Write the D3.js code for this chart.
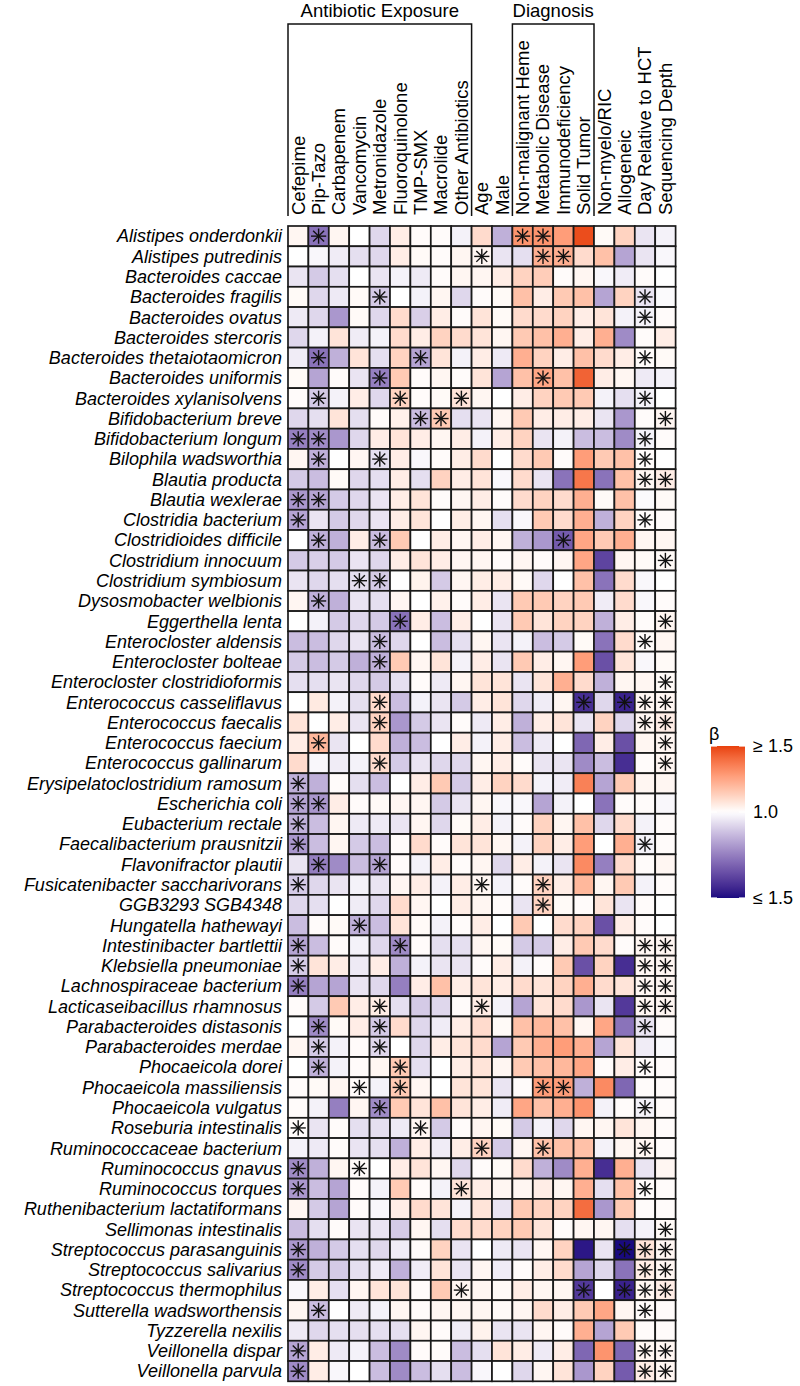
<!DOCTYPE html>
<html><head><meta charset="utf-8">
<script src="https://cdn.jsdelivr.net/npm/d3@7"></script>
<style>
body{margin:0;background:#fff}
svg{display:block}
text{font-family:"Liberation Sans",Arial,sans-serif;fill:#000}
</style>
</head><body>
<svg id="chart" width="800" height="1386"></svg>
<script>
const species = ["Alistipes onderdonkii","Alistipes putredinis","Bacteroides caccae","Bacteroides fragilis","Bacteroides ovatus","Bacteroides stercoris","Bacteroides thetaiotaomicron","Bacteroides uniformis","Bacteroides xylanisolvens","Bifidobacterium breve","Bifidobacterium longum","Bilophila wadsworthia","Blautia producta","Blautia wexlerae","Clostridia bacterium","Clostridioides difficile","Clostridium innocuum","Clostridium symbiosum","Dysosmobacter welbionis","Eggerthella lenta","Enterocloster aldensis","Enterocloster bolteae","Enterocloster clostridioformis","Enterococcus casseliflavus","Enterococcus faecalis","Enterococcus faecium","Enterococcus gallinarum","Erysipelatoclostridium ramosum","Escherichia coli","Eubacterium rectale","Faecalibacterium prausnitzii","Flavonifractor plautii","Fusicatenibacter saccharivorans","GGB3293 SGB4348","Hungatella hathewayi","Intestinibacter bartlettii","Klebsiella pneumoniae","Lachnospiraceae bacterium","Lacticaseibacillus rhamnosus","Parabacteroides distasonis","Parabacteroides merdae","Phocaeicola dorei","Phocaeicola massiliensis","Phocaeicola vulgatus","Roseburia intestinalis","Ruminococcaceae bacterium","Ruminococcus gnavus","Ruminococcus torques","Ruthenibacterium lactatiformans","Sellimonas intestinalis","Streptococcus parasanguinis","Streptococcus salivarius","Streptococcus thermophilus","Sutterella wadsworthensis","Tyzzerella nexilis","Veillonella dispar","Veillonella parvula"];

const variables = ["Cefepime","Pip-Tazo","Carbapenem","Vancomycin","Metronidazole","Fluoroquinolone","TMP-SMX","Macrolide","Other Antibiotics","Age","Male","Non-malignant Heme","Metabolic Disease","Immunodeficiency","Solid Tumor","Non-myelo/RIC","Allogeneic","Day Relative to HCT","Sequencing Depth"];

// scaled effect: -1 (β ≤ low end) .. 0 (β = 1.0) .. +1 (β ≥ 1.5)
const effect = [
[0.05,-0.55,0.05,0,-0.15,0.1,0.02,0.02,-0.05,0.2,-0.3,0.6,0.6,0.55,0.95,0.03,0.25,-0.1,-0.05],
[0,-0.03,-0.07,-0.12,-0.15,0.1,0.03,0.02,0.05,0.05,-0.1,-0.12,0.45,0.45,0.2,0.35,-0.35,-0.1,-0.03],
[-0.1,-0.2,-0.12,0,-0.1,-0.05,-0.08,0.02,0.05,0.05,0.1,0.25,0.28,0.02,0.05,-0.03,-0.07,0.02,0],
[0.03,-0.15,-0.08,0.03,-0.2,0,-0.05,0.05,-0.15,0.02,0.03,0.35,0.1,0.3,0.35,-0.35,0.25,-0.1,-0.02],
[-0.08,-0.15,-0.4,0.03,-0.15,0.2,-0.18,0.1,0.02,0.15,0.03,0.2,0.2,0.25,0.1,0.15,-0.05,-0.05,0.02],
[-0.15,-0.05,0.15,-0.07,-0.05,0.2,0.1,0.25,0.2,0.15,0.05,0.3,0.35,0.45,0.1,0.45,-0.45,0.02,0.1],
[-0.07,-0.55,-0.3,0.15,-0.12,0.25,-0.35,0.15,-0.05,0.1,-0.08,0.45,0.25,0.1,0.35,0.2,0.1,0.02,0.03],
[0.03,-0.35,0.02,-0.1,-0.5,0.3,0.02,0.05,0.02,0.15,-0.35,0.35,0.5,0.35,0.85,0.1,0.05,-0.08,-0.05],
[0.02,-0.2,-0.05,0.1,-0.15,0.25,0.02,0.03,0.15,0.05,0,0.1,0.25,0.3,0.3,-0.05,-0.12,-0.05,0],
[-0.15,-0.12,0.15,-0.12,0.02,0.08,-0.25,0.3,-0.12,-0.1,0.05,0.3,0.1,0.1,0.1,-0.1,-0.4,0.02,0.05],
[-0.5,-0.45,-0.4,-0.15,0.1,0.15,0.1,0.05,0.1,-0.05,0.1,0.25,-0.1,-0.05,-0.25,-0.25,-0.45,-0.05,0.02],
[0.05,-0.3,0,0.05,-0.12,0.1,-0.03,0.02,0.1,0.2,0,0.2,0.3,0.02,0.55,0.3,0.35,0.02,0],
[-0.2,-0.25,0.03,-0.15,-0.12,0.1,-0.12,0.25,0.1,0.15,-0.03,0.2,-0.1,-0.55,0.75,-0.55,0.35,0.05,0.1],
[-0.4,-0.35,-0.2,-0.15,-0.1,0.1,0.15,0.02,0.05,0.1,0.02,0.2,0.25,0.2,0.45,0.03,0.35,-0.02,0.03],
[-0.35,-0.1,-0.2,-0.15,-0.1,0.1,0.15,0,0.1,0.05,-0.12,-0.03,0.3,0.2,0.45,-0.3,0.25,0.02,0.02],
[0,-0.3,-0.3,0.1,-0.25,0.3,0,0.1,0.05,0.1,0.05,-0.3,-0.4,-0.65,0.5,0.3,0.45,0.05,0.05],
[-0.2,-0.18,-0.2,-0.1,-0.15,0.1,0.15,0.1,0.05,0.05,0.02,0.05,0.02,0.05,0.5,-0.75,0.05,0.03,0.03],
[-0.1,-0.15,-0.12,-0.12,-0.2,0,0.07,-0.2,0.05,0.1,0.1,0.03,-0.15,0,0.35,-0.55,0.2,-0.03,0],
[0.05,-0.3,-0.3,-0.1,-0.12,0.05,0,0.08,0.02,0.1,-0.1,0.3,0.3,0.25,0.3,-0.07,0.2,-0.03,0.02],
[0,-0.05,-0.2,-0.15,-0.2,-0.55,0.1,-0.25,0.1,0,-0.1,0.3,0.15,0.25,0.25,-0.3,0.1,0.02,0.05],
[-0.25,-0.25,-0.15,-0.1,-0.25,-0.15,0,-0.25,-0.12,0.05,-0.1,-0.05,-0.25,-0.2,0.03,-0.55,0.2,0.02,0.05],
[-0.2,-0.25,-0.2,-0.3,-0.3,0.3,0.05,0.15,-0.05,0.1,-0.1,0.3,0.1,0.05,0.55,-0.7,0.15,-0.03,0.03],
[-0.12,-0.12,-0.1,-0.15,-0.2,-0.12,0.02,-0.08,0.05,0.15,0.15,-0.1,0.15,0.45,0.2,-0.3,0.05,0.05,0.03],
[0,0.12,-0.05,-0.12,0.2,-0.25,-0.05,-0.1,-0.2,0.1,0.15,-0.15,-0.07,0.05,-0.85,-0.15,-0.9,0.05,0.05],
[0.15,0,0.1,-0.1,0.25,-0.4,-0.2,-0.1,0.02,-0.08,0.1,-0.3,0.1,0.15,-0.1,0.25,-0.15,0.05,0.1],
[0.1,0.4,-0.1,0,0.2,-0.3,-0.25,0,0.1,-0.05,0.1,-0.25,-0.08,0,-0.6,0.1,-0.7,0.05,0.05],
[0.2,-0.03,-0.07,-0.05,0.2,-0.2,-0.1,-0.15,-0.15,0.05,0.1,0.02,-0.1,-0.1,-0.45,-0.25,-0.85,0.02,0.05],
[-0.3,-0.3,0.02,-0.12,-0.25,0,0.1,0.3,-0.2,0.1,0.25,0.2,-0.05,-0.07,0.7,-0.35,0.3,0.05,0.05],
[-0.35,-0.4,0.1,0.02,0.03,0.05,0.05,-0.2,-0.1,0.05,-0.03,-0.03,-0.35,-0.05,0,-0.55,0.02,0.02,-0.03],
[-0.3,-0.25,0.05,-0.08,-0.08,-0.1,0.05,-0.15,0.03,0.1,-0.05,0.02,0.25,0.05,0.35,-0.15,0.2,-0.05,0.02],
[-0.4,-0.25,0.05,-0.2,-0.25,0.02,0.2,0.02,0.15,0.15,0.05,-0.05,0.25,0.1,0.55,0,0.45,-0.05,0.02],
[-0.1,-0.5,-0.45,-0.25,-0.35,0.02,-0.05,0.1,0.02,0.05,-0.15,0.1,-0.05,-0.1,0.65,-0.5,0.2,0.02,0.05],
[-0.2,-0.15,-0.1,-0.05,-0.1,0.05,0.1,-0.05,0.1,0.05,-0.05,0.02,0.25,0.1,0.4,0.05,0.3,-0.05,0.02],
[-0.15,-0.12,0,-0.07,-0.15,0.2,0.05,0,0.1,0.05,0.02,-0.1,0.25,0.03,0.02,0.15,-0.1,0.02,0],
[-0.25,0.02,0.03,-0.3,-0.25,0.15,0.03,-0.05,0.02,0.1,0,0.3,0,0.2,0.25,-0.7,0.1,0.02,0],
[-0.35,-0.25,0.02,-0.05,-0.15,-0.45,0.02,-0.12,-0.12,0.05,0.03,-0.2,-0.2,0.1,0.3,0.2,0.02,0.05,0.05],
[-0.2,0.15,0.1,-0.08,0.1,-0.3,-0.05,-0.1,-0.1,0.02,0.1,-0.05,0.02,0.3,-0.7,0.25,-0.85,0.05,0.05],
[-0.5,-0.35,-0.35,-0.1,-0.15,-0.5,0.1,0.35,0.1,0.15,0.1,0.2,0.15,0.25,0.45,0.2,0.15,0.05,0.05],
[0.02,-0.2,0.3,0.1,0.1,-0.12,-0.2,-0.15,0.02,0.1,-0.05,-0.35,0.15,0.2,-0.4,-0.1,-0.8,0.05,0.05],
[0,-0.45,0.03,0.1,-0.2,0.2,-0.15,-0.07,0.1,0.2,0.03,0.35,0.4,0.35,0.05,0.5,-0.55,-0.1,0.02],
[0.05,-0.2,-0.05,0.02,-0.15,0,-0.15,0.1,0.15,0.2,-0.35,0.3,0.45,0.55,0.45,-0.35,0.15,-0.07,-0.02],
[0,-0.3,-0.05,0.02,0.05,0.3,-0.12,0,0.1,0.15,0.05,0.3,0.35,0.4,0.5,0.02,0.1,0.02,0.02],
[0.02,0.03,0.05,0.02,-0.05,0.3,0.05,0,0.15,0.15,-0.1,0.02,0.55,0.55,-0.3,0.65,-0.6,0.02,0.02],
[0.02,-0.05,-0.5,0.05,-0.45,0.3,0.15,0.35,0.15,0.1,-0.07,0.5,0.35,0.45,0.6,-0.05,0.02,-0.05,0.02],
[0.02,-0.1,0.02,-0.12,-0.12,-0.08,0.05,-0.2,0.02,0.05,0.03,-0.2,-0.05,-0.15,0.05,0.05,0.15,0.05,0.02],
[-0.05,-0.08,0.02,-0.1,-0.12,-0.3,0.1,-0.07,0.1,0.25,-0.2,0.05,0.35,0.35,0.35,-0.05,0.05,0.05,0.02],
[-0.45,-0.3,0.05,0.02,0,0.1,0.15,0.05,-0.15,0.02,0.03,0.2,-0.3,-0.45,0.45,-0.85,0.45,-0.1,0.05],
[-0.4,-0.25,-0.35,0.02,-0.05,0.3,0.02,-0.05,0.15,0.1,0.05,0.05,0.1,0.05,0.45,-0.12,0.35,0.02,0.02],
[0.05,-0.2,-0.35,0.02,-0.03,0.1,0.2,0.15,-0.05,0.15,-0.1,0.3,0.25,0.25,0.8,-0.4,0.3,0.02,0.02],
[-0.25,-0.12,0.02,-0.1,-0.1,-0.2,0.05,-0.12,0.2,0.2,0.25,0.3,0.15,0.02,0.05,0.05,-0.12,-0.05,0.03],
[-0.4,-0.3,-0.2,-0.12,-0.15,-0.07,0.02,0.25,-0.1,0,-0.08,-0.1,0.05,0.25,-0.95,-0.1,-1,0.15,0.05],
[-0.45,-0.2,-0.2,-0.12,-0.08,-0.3,-0.07,0.15,-0.1,0.05,-0.07,0.02,0.1,0.2,-0.35,-0.15,-0.55,0.1,0.05],
[-0.03,0.1,-0.12,0.05,0.15,0.15,0.02,0.3,0.05,0.05,0.03,0.1,0.05,0.05,-0.8,0,-0.9,0.05,0.1],
[0.05,-0.25,0,-0.08,-0.05,0.05,0.02,0.05,0.05,0.05,0.03,0.05,0.2,0.1,0.3,0.5,0.05,0.02,0.02],
[-0.08,-0.15,-0.12,-0.12,-0.12,-0.12,0.05,0.02,-0.07,0.07,-0.1,-0.1,0.05,0.02,0.45,-0.35,0.3,0.02,0.02],
[-0.35,0.1,-0.08,-0.05,-0.25,-0.45,0.02,0.02,-0.25,-0.12,0.15,0.1,-0.08,0.1,-0.6,0.6,-0.6,0.05,0.05],
[-0.45,0.1,-0.03,0,-0.25,-0.45,-0.25,-0.12,-0.25,-0.03,0,-0.15,0.05,0.15,-0.4,0.25,-0.65,0.1,0.05]
];

// column indices marked significant (asterisk), per species row
const significant = [
[1,11,12],[9,12,13],[],[4,17],[17],[],[1,6,17],[4,12],[1,5,8,17],[6,7,18],
[0,1,17],[1,4,17],[17,18],[0,1],[0,17],[1,4,13],[18],[3,4],[1],[5,18],
[4,17],[4],[18],[4,14,16,17,18],[4,17,18],[1,18],[4,18],[0],[0,1],[0],
[0,17],[1,4],[0,9,12],[12],[3],[0,5,17,18],[0,17,18],[0,17,18],[4,9,17,18],[1,4,17],
[1,4],[1,5,17],[3,5,12,13],[4,17],[0,6],[9,12,17],[0,3],[0,8,17],[],[18],
[0,16,17,18],[0,17,18],[8,14,16,17,18],[1,17],[],[0,17,18],[0,17,18]
];

const groupLabels = ["Antibiotic Exposure","Diagnosis"];
const groupStart = [0, 11];
const groupEnd = [8, 14];
const legendTitle = "β";
const legendTicks = ["≥ 1.5","1.0","≤ 1.5"];

const svg = d3.select("#chart");
const gridL = 288, gridR = 675.6, gridT = 226, gridB = 1381.3;

const x = d3.scaleBand().domain(variables).range([gridL, gridR]).padding(0);
const y = d3.scaleBand().domain(species).range([gridT, gridB]).padding(0);

const posCol = d3.interpolateLab("#ffffff", "#e8400c");
const negCol = d3.interpolateLab("#ffffff", "#1a0a80");
const color = v => v >= 0 ? posCol(Math.min(1, v)) : negCol(Math.min(1, -v));

const cells = [];
species.forEach((s, i) => variables.forEach((vname, j) => {
  cells.push({s, v: vname, val: effect[i][j], sig: significant[i].includes(j)});
}));

const g = svg.append("g");
g.selectAll("rect.cell").data(cells).join("rect")
  .attr("class", "cell")
  .attr("x", d => x(d.v)).attr("y", d => y(d.s))
  .attr("width", x.bandwidth()).attr("height", y.bandwidth())
  .attr("fill", d => color(d.val))
  .attr("stroke", "#1a1a1a").attr("stroke-width", 1.7);

// asterisks
const r = 7.6;
const star = g.selectAll("g.star").data(cells.filter(d => d.sig)).join("g")
  .attr("class", "star")
  .attr("transform", d => `translate(${x(d.v) + x.bandwidth()/2},${y(d.s) + y.bandwidth()/2})`);
const arms = [[-r,0,r,0],[0,-r,0,r],[-r*0.72,-r*0.72,r*0.72,r*0.72],[-r*0.72,r*0.72,r*0.72,-r*0.72]];
arms.forEach(a => star.append("line").attr("x1",a[0]).attr("y1",a[1]).attr("x2",a[2]).attr("y2",a[3])
  .attr("stroke","#111").attr("stroke-width",1.4));

// row labels
svg.append("g").selectAll("text").data(species).join("text")
  .attr("x", gridL - 6).attr("y", d => y(d) + y.bandwidth()/2)
  .attr("dy", "0.35em").attr("text-anchor", "end")
  .style("font-style", "italic").style("font-size", "18px")
  .text(d => d);

// column labels
svg.append("g").selectAll("text").data(variables).join("text")
  .attr("transform", d => `translate(${x(d) + x.bandwidth()/2},215) rotate(-90)`)
  .attr("dy", "0.35em").attr("text-anchor", "start")
  .style("font-size", "18.5px")
  .text(d => d);

// group brackets
groupLabels.forEach((lab, k) => {
  const x0 = x(variables[groupStart[k]]);
  const x1 = x(variables[groupEnd[k]]) + x.bandwidth();
  svg.append("path")
    .attr("d", `M${x0},216V24H${x1}V216`)
    .attr("fill", "none").attr("stroke", "#111").attr("stroke-width", 1.5);
  svg.append("text").attr("x", (x0 + x1)/2).attr("y", 17)
    .attr("text-anchor", "middle").style("font-size", "18.5px").text(lab);
});

// legend (colour bar: top = high, white at 1.0, bottom = low)
const lx = 711, lw = 34, lyTop = 746, lyMid = 812, lyBot = 898;
const lScale = d3.scaleLinear().domain([1, 0, -1]).range([lyTop, lyMid, lyBot]);
const defs = svg.append("defs");
const grad = defs.append("linearGradient").attr("id", "lg").attr("x1", 0).attr("x2", 0).attr("y1", 0).attr("y2", 1);
d3.range(0, 1.0001, 0.025).forEach(t => {
  const yy = lyTop + t*(lyBot - lyTop);
  grad.append("stop").attr("offset", t).attr("stop-color", color(lScale.invert(yy)));
});
svg.append("rect").attr("x", lx).attr("y", lyTop).attr("width", lw).attr("height", lyBot - lyTop).attr("fill", "url(#lg)");
[1, 0, -1].forEach((tv, k) => {
  const yy = lScale(tv);
  svg.append("line").attr("x1", lx).attr("x2", lx + 6).attr("y1", yy).attr("y2", yy).attr("stroke", "#fff").attr("stroke-width", 1.2);
  svg.append("line").attr("x1", lx + lw - 6).attr("x2", lx + lw).attr("y1", yy).attr("y2", yy).attr("stroke", "#fff").attr("stroke-width", 1.2);
  svg.append("text").attr("x", lx + lw + 8).attr("y", yy).attr("dy", "0.35em").style("font-size", "18px").text(legendTicks[k]);
});
svg.append("text").attr("x", lx - 2).attr("y", lyTop - 6).style("font-size", "18px").text(legendTitle);
</script>
</body></html>
